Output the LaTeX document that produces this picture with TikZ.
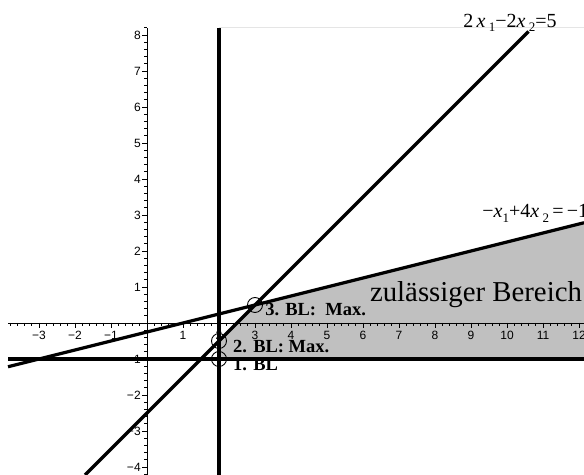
\documentclass[tikz,border=0pt]{standalone}
\usepackage{fontspec}
\setmainfont{Liberation Serif}
\newfontfamily\axisfont{Liberation Sans}
\definecolor{regiongray}{RGB}{192,192,192}
\newcommand{\lowsub}[1]{\raisebox{-0.5ex}{\fontsize{13}{13}\selectfont #1}}

\begin{document}
\begin{tikzpicture}[x=36pt,y=36pt,
  axisline/.style={line width=0.8pt},
  plotline/.style={line width=3.2pt},
  ticklabel/.style={font=\axisfont\fontsize{12}{12}\selectfont,inner sep=0pt},
  bllabel/.style={font=\bfseries\fontsize{18.5}{18.5}\selectfont,anchor=base west,inner sep=0pt},
  eqlabel/.style={font=\fontsize{20}{20}\selectfont,anchor=base west,inner sep=0pt},
  vertex/.style={circle,draw,line width=0.9pt,minimum size=15pt,inner sep=0pt}]
\useasboundingbox (-4.0833,-4.2222) rectangle (12.1389,8.9722);
% feasible region
\fill[regiongray] (2,-1) -- (2,-0.5) -- (3,0.5) -- (12.1389,2.7847) -- (12.1389,-1) -- cycle;
\draw[gray!20,line width=0.6pt] (2,8.2) -- (12.1389,8.2);
% axes
\draw[axisline] (-3.86,0) -- (12.1389,0);
\draw[axisline] (0,-4.2222) -- (0,8.2);
\foreach \i in {-19,...,60} \draw[axisline] (\i/5,0) -- (\i/5,-0.08);
\foreach \i in {-21,...,41} \draw[axisline] (0,\i/5) -- (-0.08,\i/5);
\foreach \i in {-3,...,12} \draw[axisline] (\i,0) -- (\i,-0.15);
\foreach \i in {-4,...,8} \draw[axisline] (0,\i) -- (-0.15,\i);
\foreach \i in {-3,-2,-1} \node[ticklabel,anchor=north] (xl\number-\i m) at (\i,-0.22) {−\number-\i};
\foreach \i in {1,...,12} \node[ticklabel,anchor=north] (xl\i) at (\i,-0.22) {\i};
\foreach \i in {-4,...,-1} \node[ticklabel,anchor=east] (yl\number-\i m) at (-0.17,\i) {−\number-\i};
\foreach \i in {1,...,8} \node[ticklabel,anchor=east] (yl\i) at (-0.17,\i) {\i};
% constraints
\draw[plotline] (2,-4.2222) -- (2,8.2);
\draw[plotline] (-3.86,-1) -- (12.1389,-1);
\draw[plotline] (-1.7222,-4.2222) -- (10.6,8.1);
\draw[plotline] (-3.86,-1.215) -- (12.1389,2.7847);
% basic solutions
\node[vertex] (p1) at (2,-1) {};
\node[vertex] (p2) at (2,-0.5) {};
\node[vertex] (p3) at (3,0.5) {};
\node[bllabel] (bl1) at (2.39,-1.31) {1. BL};
\node[bllabel] (bl2) at (2.39,-0.83) {2. BL:\ Max.};
\node[bllabel] (bl3) at (3.28,0.22) {3. BL:\ \ Max.};
\node[font=\fontsize{28.8}{28.8}\selectfont,anchor=base west,inner sep=0pt] (region) at (6.19,0.61) {zulässiger Bereich};
\node[eqlabel] (eqA) at (8.78,8.22) {2\,\textit{x}\,\lowsub{1}−2\textit{x}\,\lowsub{2}=5};
\node[eqlabel] (eqB) at (9.31,2.92) {−\textit{x}\lowsub{1}+4\textit{x}\,\lowsub{2}\,=\,−1};
\end{tikzpicture}
\end{document}
